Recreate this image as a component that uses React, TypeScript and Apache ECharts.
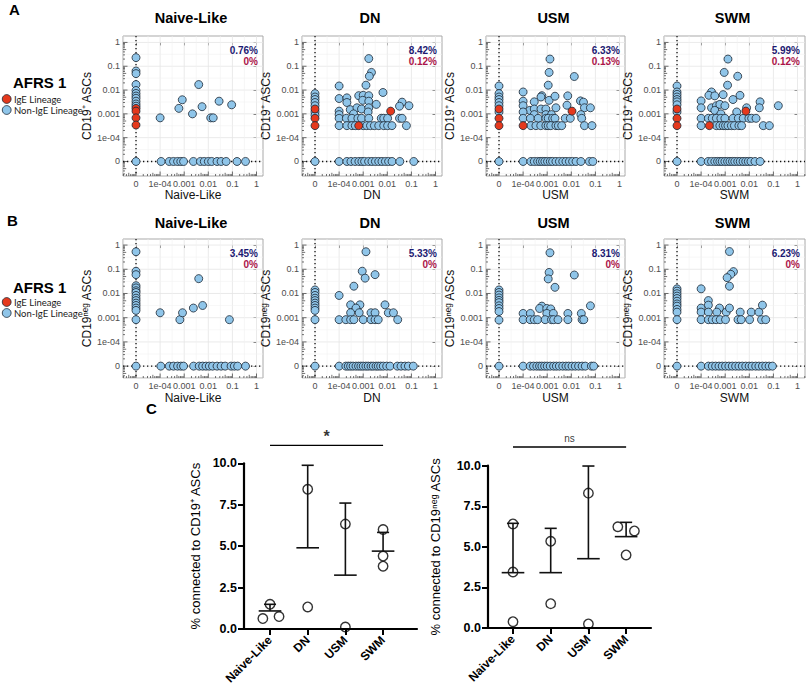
import React, { useEffect, useRef } from 'react';
import * as echarts from 'echarts';

// ---------------- pseudo-log axes (0 sits one decade below 1e-04) ----------------
const LOG_TICK_VALUES = [-5, -4, -3, -2, -1, 0];
const LOG_TICK_LABELS = ['0', '1e-04', '0.001', '0.01', '0.1', '1'];
const ZERO_POS = -5;

const PANEL_TITLES = ['Naive-Like', 'DN', 'USM', 'SWM'];
const ROW_A_PCT_BLUE = ['0.76%', '8.42%', '6.33%', '5.99%'];
const ROW_A_PCT_RED = ['0%', '0.12%', '0.13%', '0.12%'];
const ROW_B_PCT_BLUE = ['3.45%', '5.33%', '8.31%', '6.23%'];
const ROW_B_PCT_RED = ['0%', '0%', '0%', '0%'];
const LEGEND_NAMES = ['IgE Lineage', 'Non-IgE Lineage'];

// ---- Row A (CD19+ ASCs) ----
// col* = points with x = 0 (y values); row* = points with y = 0 (x values); pts* = [x, y]
const A_NL_colNon = [0.23, 0.063, 0.049, 0.017, 0.0096, 0.0072, 0.0056, 0.0045, 0.0034, 0.0026, 0.0021];
const A_NL_colIgE = [0.0017, 0.0013, 0.00068, 0.00034];
const A_NL_rowNon = [0.00011, 0.00024, 0.00036, 0.00053, 0.00072, 0.00094, 0.0024, 0.0047, 0.0068, 0.01, 0.0138, 0.023, 0.034, 0.055, 0.155, 0.35];
const A_NL_ptsNon = [[0.0001, 0.00068], [0.0006, 0.0017], [0.00083, 0.0039], [0.0022, 0.001], [0.004, 0.017], [0.0055, 0.002], [0.0126, 0.00068], [0.016, 0.00068], [0.028, 0.0034], [0.093, 0.0024]];
const A_NL_ptsIgE: number[][] = [];

const A_DN_colNon = [0.0071, 0.0051, 0.004, 0.003, 0.0022, 0.0012, 0.00088];
const A_DN_colIgE = [0.0016, 0.00065, 0.00032];
const A_DN_rowNon = [0.0001, 0.00021, 0.00031, 0.00046, 0.00066, 0.00088, 0.00114, 0.00167, 0.0023, 0.0032, 0.0044, 0.006, 0.0083, 0.0113, 0.0157, 0.033, 0.125];
const A_DN_ptsNon = [[0.0017, 0.21], [0.0022, 0.055], [0.0018, 0.038], [0.0001, 0.0148], [0.0013, 0.016], [0.0066, 0.0079], [0.0001, 0.0044], [0.00021, 0.0047], [0.00065, 0.0058], [0.001, 0.006], [0.0017, 0.0058], [0.00095, 0.0037], [0.00021, 0.003], [0.0017, 0.0034], [0.0035, 0.0025], [0.041, 0.0031], [0.032, 0.0021], [0.079, 0.0022], [0.0001, 0.0013], [0.00029, 0.0015], [0.00055, 0.0018], [0.00085, 0.0016], [0.0017, 0.0018], [0.0004, 0.001], [0.0001, 0.00093], [0.0016, 0.0012]];
const A_DN_band1 = [0.0001, 0.0002, 0.00034, 0.0006, 0.00085, 0.0017, 0.0056, 0.0071, 0.0103, 0.032, 0.041];
const A_DN_band2 = [0.0001, 0.00021, 0.00034, 0.00047, 0.001, 0.0014, 0.002, 0.0029, 0.0044, 0.0071, 0.0103, 0.0156, 0.062];
const A_DN_ptsIgE = [[0.00065, 0.00032], [0.0138, 0.0013]];

const A_USM_colNon = [0.0148, 0.0071, 0.0051, 0.004, 0.003, 0.0022, 0.0012];
const A_USM_colIgE = [0.0016, 0.00065, 0.00032];
const A_USM_rowNon = [0.0001, 0.00021, 0.00029, 0.0004, 0.00051, 0.00064, 0.0008, 0.00103, 0.00134, 0.00167, 0.0023, 0.0032, 0.0044, 0.006, 0.0083, 0.0113, 0.0157, 0.025, 0.056, 0.078];
const A_USM_ptsNon = [[0.0013, 0.2], [0.0012, 0.055], [0.0133, 0.037], [0.0011, 0.016], [0.0001, 0.0083], [0.0006, 0.0058], [0.00055, 0.0051], [0.0012, 0.0037], [0.0021, 0.0055], [0.0071, 0.0057], [0.024, 0.0035], [0.032, 0.0031], [0.0001, 0.0034], [0.00029, 0.0032], [0.0001, 0.0022], [0.00019, 0.0014], [0.00029, 0.0016], [0.00055, 0.0016], [0.00088, 0.0016], [0.0023, 0.0018], [0.0066, 0.0023], [0.035, 0.0018], [0.062, 0.0018], [0.0001, 0.0012], [0.00029, 0.00093], [0.00088, 0.00093], [0.0015, 0.00093], [0.025, 0.00093]];
const A_USM_band1 = [0.0001, 0.0002, 0.00042, 0.00088, 0.0011, 0.00167, 0.0021, 0.0056, 0.0091, 0.027];
const A_USM_band2 = [0.00021, 0.00034, 0.00054, 0.00088, 0.0011, 0.0014, 0.0023, 0.0029, 0.004, 0.035, 0.072];
const A_USM_ptsIgE = [[0.0001, 0.00032], [0.0107, 0.0013]];

const A_SWM_colNon = [0.0148, 0.0083, 0.0066, 0.0051, 0.004, 0.0032, 0.0024, 0.0012];
const A_SWM_colIgE = [0.0016, 0.00065, 0.00032];
const A_SWM_rowNon = [0.0001, 0.000196, 0.00027, 0.00037, 0.00048, 0.0006, 0.00075, 0.00097, 0.00125, 0.00157, 0.002, 0.0025, 0.0033, 0.0042, 0.0055, 0.0071, 0.0091, 0.0117, 0.0172, 0.028];
const A_SWM_ptsNon = [[0.0013, 0.2], [0.00091, 0.055], [0.0033, 0.038], [0.00125, 0.016], [0.00027, 0.0083], [0.00021, 0.006], [0.00037, 0.0057], [0.00082, 0.0064], [0.0021, 0.004], [0.0041, 0.006], [0.0001, 0.0035], [0.028, 0.0032], [0.16, 0.0022], [0.0001, 0.0018], [0.00027, 0.0018], [0.00043, 0.0022], [0.0006, 0.0025], [0.00097, 0.0022], [0.003, 0.0012], [0.0077, 0.0018], [0.026, 0.0018], [0.00037, 0.0014], [0.00066, 0.001]];
const A_SWM_band1 = [0.0001, 0.0002, 0.00029, 0.00043, 0.00066, 0.00097, 0.0021, 0.0035, 0.0056, 0.0096, 0.0125, 0.019];
const A_SWM_band2 = [0.0001, 0.00043, 0.0006, 0.00082, 0.00103, 0.0013, 0.0018, 0.0024, 0.0037, 0.0048, 0.038, 0.068];
const A_SWM_ptsIgE = [[0.0072, 0.0013], [0.00022, 0.00032]];

const A_BAND1_Y = 0.00065;
const A_BAND2_Y = 0.00032;

// ---- Row B (CD19neg ASCs) ----
const B_NL_colNon = [0.53, 0.083, 0.06, 0.021, 0.017, 0.013, 0.011, 0.0083, 0.0064, 0.0051, 0.004, 0.0032, 0.0025, 0.002, 0.00083];
const B_NL_rowNon = [0.000107, 0.00024, 0.00036, 0.00053, 0.00073, 0.00094, 0.00245, 0.0042, 0.0058, 0.008, 0.011, 0.015, 0.023, 0.034, 0.05, 0.088, 0.12, 0.165, 0.35];
const B_NL_ptsNon = [[0.0001, 0.0016], [0.00066, 0.00083], [0.00085, 0.0016], [0.0024, 0.0025], [0.004, 0.041], [0.0058, 0.0032], [0.075, 0.00083]];
const B_NL_band: number[] = [];

const B_DN_colNon = [0.014, 0.011, 0.0083, 0.0064, 0.0051, 0.004, 0.0032, 0.0025, 0.002, 0.00083];
const B_DN_rowNon = [0.0001, 0.00019, 0.00024, 0.0003, 0.00038, 0.0005, 0.00064, 0.0008, 0.001, 0.00129, 0.00162, 0.0021, 0.0026, 0.0034, 0.0042, 0.0053, 0.0068, 0.0094, 0.013, 0.026, 0.037, 0.054, 0.075, 0.12];
const B_DN_ptsNon = [[0.0013, 0.53], [0.00091, 0.083], [0.0012, 0.043], [0.0031, 0.06], [0.00041, 0.02], [0.0001, 0.0083], [0.0003, 0.0034], [0.00073, 0.0034], [0.0005, 0.0025], [0.0003, 0.0016], [0.00068, 0.0016], [0.0021, 0.0016], [0.0031, 0.0016], [0.008, 0.0034], [0.011, 0.0016], [0.018, 0.0016]];
const B_DN_band = [0.0001, 0.00019, 0.0003, 0.00041, 0.001, 0.0021, 0.0031, 0.0042, 0.027];

const B_USM_colNon = [0.014, 0.011, 0.0086, 0.0066, 0.0052, 0.0042, 0.0031, 0.0024, 0.0018, 0.0008];
const B_USM_rowNon = [0.0001, 0.000196, 0.00027, 0.00037, 0.00048, 0.0006, 0.00078, 0.001, 0.00133, 0.00184, 0.0024, 0.0032, 0.0044, 0.006, 0.0078, 0.0107, 0.0146, 0.02, 0.028, 0.038, 0.068, 0.085];
const B_USM_ptsNon = [[0.0013, 0.48], [0.0012, 0.074], [0.0011, 0.04], [0.0133, 0.058], [0.0021, 0.018], [0.0006, 0.003], [0.00048, 0.0024], [0.00096, 0.0024], [0.0014, 0.0023], [0.062, 0.0031], [0.0001, 0.0015], [0.0002, 0.0015], [0.00096, 0.0015], [0.0018, 0.0015], [0.0072, 0.0015], [0.026, 0.0015]];
const B_USM_band = [0.0001, 0.000196, 0.00029, 0.0004, 0.00082, 0.0015, 0.00184, 0.0028, 0.0072, 0.028, 0.033];

const B_SWM_colNon = [0.0156, 0.0125, 0.0098, 0.0078, 0.0062, 0.0048, 0.0037, 0.003, 0.0022, 0.0017, 0.00083];
const B_SWM_rowNon = [0.0001, 0.0002, 0.00029, 0.0004, 0.00055, 0.00075, 0.00103, 0.00142, 0.00196, 0.0027, 0.0037, 0.0051, 0.0071, 0.0098, 0.013, 0.0184, 0.025, 0.035, 0.048, 0.066, 0.091];
const B_SWM_ptsNon = [[0.0015, 0.54], [0.0022, 0.08], [0.0017, 0.062], [0.0012, 0.045], [0.0015, 0.02], [0.0001, 0.0156], [0.0002, 0.0051], [0.0002, 0.0033], [0.0001, 0.0025], [0.0001, 0.0017], [0.0002, 0.0017], [0.00058, 0.0025], [0.00045, 0.0017], [0.0011, 0.0017], [0.0015, 0.0025], [0.0042, 0.0017], [0.012, 0.0017], [0.025, 0.0017], [0.035, 0.0033]];
const B_SWM_band = [0.0001, 0.0002, 0.00029, 0.00042, 0.00062, 0.00103, 0.0034, 0.0046, 0.0103, 0.032, 0.048];

const B_BAND_Y = 0.00083;

// ---------------- Panel C ----------------
const C_CATS = ['Naive-Like', 'DN', 'USM', 'SWM'];
const C_POS_POINTS = [[1.49, 0.63, 0.75], [8.43, 1.33], [6.33, 0.12], [6.0, 4.4, 3.79]];
const C_POS_JITTER = [[0, -0.19, 0.24], [0, 0], [0, 0], [0, 0, 0]];
const C_POS_MEAN = [1.09, 4.9, 3.25, 4.7];
const C_POS_UPPER = [1.49, 9.88, 7.6, 5.83];
const C_NEG_POINTS = [[6.41, 3.45, 0.39], [5.34, 1.5], [8.31, 0.25], [6.24, 5.98, 4.5]];
const C_NEG_JITTER = [[0, 0, 0], [0, 0], [0, 0], [-0.22, 0.22, 0]];
const C_NEG_MEAN = [3.41, 3.41, 4.27, 5.63];
const C_NEG_UPPER = [6.45, 6.14, 9.98, 6.51];
const C_Y_TICKS = [0, 2.5, 5, 7.5, 10];
const C_SIG_LABELS = ['*', 'ns'];
const C_SIG_Y = [11.08, 11.15];

// ---------------- layout & style ----------------
const FONT = '"Liberation Sans", Arial, Helvetica, sans-serif';
const LEGEND_FONT = 'Lato, "Open Sans", sans-serif';
const COL_LEFT = [123, 302, 486, 664];
const COL_W = [140, 140, 139, 141];
const ROW_TOP = [36, 239];
const ROW_H = [140, 139];
const ROW_YMIN = [-5.61, -5.49];
const ROW_YMAX = [0.27, 0.25];
const X_MIN = -5.54;
const PX_PER_DEC = 24.1;
const YNAME_GAP = [17, 23.5, 23.5, 23.5];
const TITLE_Y = [18, 223];
const XNAME_GAP = [13, 14];
const AFRS_Y = [82, 287];
const LEGEND_Y = [99, 302];

const BLUE = '#8fc5e9';
const RED = '#e5391d';
const EDGE = '#1c2733';
const NAVY = '#1c1a72';
const CRIMSON = '#ab1449';

const L = (v: number) => (v === 0 ? ZERO_POS : Math.log10(v));
const band = (y: number, xs: number[]) => xs.map((x) => [x, y]);

// decoration items for each scatter panel: [value, kind]
// kind 0 major grid, 1 minor grid, 2/3/4 log ticks (long/mid/short), 5 dotted zero lines
const DECO: number[][] = [];
for (const v of LOG_TICK_VALUES) DECO.push([v, 0]);
for (const v of [-5.5, -4.5, -3.5, -2.5, -1.5, -0.5]) DECO.push([v, 1]);
for (let d = -6; d <= 0; d++) {
  for (let k = 1; k <= 9; k++) {
    DECO.push([d + Math.log10(k), k === 1 ? 2 : k === 5 ? 3 : 4]);
  }
}
DECO.push([ZERO_POS, 5]);

function decoRender(params: any, api: any) {
  const cs = params.coordSys;
  const v = api.value(0);
  const kind = api.value(1);
  const p = api.coord([v, v]);
  const bottom = cs.y + cs.height;
  const right = cs.x + cs.width;
  const inX = p[0] >= cs.x - 0.3 && p[0] <= right + 0.3;
  const inY = p[1] >= cs.y - 0.3 && p[1] <= bottom + 0.3;
  const children: any[] = [];
  const ln = (x1: number, y1: number, x2: number, y2: number, style: any) =>
    children.push({ type: 'line', shape: { x1, y1, x2, y2 }, style });
  if (kind === 0 || kind === 1) {
    const st = kind === 0 ? { stroke: '#e4e4e4', lineWidth: 0.8 } : { stroke: '#f1f1f1', lineWidth: 0.6 };
    if (inX) ln(p[0], cs.y, p[0], bottom, st);
    if (inY) ln(cs.x, p[1], right, p[1], st);
  } else if (kind === 5) {
    const st = { stroke: '#111', lineWidth: 1.3, lineDash: [1.3, 2.7] };
    if (inX) ln(p[0], cs.y, p[0], bottom, st);
    if (inY) ln(cs.x, p[1], right, p[1], st);
  } else {
    const len = kind === 2 ? 4.5 : kind === 3 ? 3.2 : 2;
    const st = { stroke: '#333', lineWidth: 0.7 };
    if (inX) ln(p[0], bottom, p[0], bottom - len, st);
    if (inY) ln(cs.x, p[1], cs.x + len, p[1], st);
  }
  return { type: 'group', children };
}

function errRender(params: any, api: any) {
  const i = api.value(0);
  const m = api.value(1);
  const u = api.value(2);
  const pm = api.coord([i, m]);
  const pu = api.coord([i, u]);
  const half = api.size([0.3, 0])[0];
  const cap = api.size([0.16, 0])[0];
  const st = { stroke: '#111', lineWidth: 1.6 };
  return {
    type: 'group',
    children: [
      { type: 'line', shape: { x1: pm[0] - half, y1: pm[1], x2: pm[0] + half, y2: pm[1] }, style: st },
      { type: 'line', shape: { x1: pm[0], y1: pm[1], x2: pu[0], y2: pu[1] }, style: st },
      { type: 'line', shape: { x1: pu[0] - cap, y1: pu[1], x2: pu[0] + cap, y2: pu[1] }, style: st },
    ],
  };
}

function buildOption() {
  const panels = [
    [
      { colNon: A_NL_colNon, colIgE: A_NL_colIgE, rowNon: A_NL_rowNon, ptsNon: A_NL_ptsNon, ptsIgE: A_NL_ptsIgE },
      { colNon: A_DN_colNon, colIgE: A_DN_colIgE, rowNon: A_DN_rowNon, ptsNon: [...A_DN_ptsNon, ...band(A_BAND1_Y, A_DN_band1), ...band(A_BAND2_Y, A_DN_band2)], ptsIgE: A_DN_ptsIgE },
      { colNon: A_USM_colNon, colIgE: A_USM_colIgE, rowNon: A_USM_rowNon, ptsNon: [...A_USM_ptsNon, ...band(A_BAND1_Y, A_USM_band1), ...band(A_BAND2_Y, A_USM_band2)], ptsIgE: A_USM_ptsIgE },
      { colNon: A_SWM_colNon, colIgE: A_SWM_colIgE, rowNon: A_SWM_rowNon, ptsNon: [...A_SWM_ptsNon, ...band(A_BAND1_Y, A_SWM_band1), ...band(A_BAND2_Y, A_SWM_band2)], ptsIgE: A_SWM_ptsIgE },
    ],
    [
      { colNon: B_NL_colNon, colIgE: [], rowNon: B_NL_rowNon, ptsNon: [...B_NL_ptsNon, ...band(B_BAND_Y, B_NL_band)], ptsIgE: [] },
      { colNon: B_DN_colNon, colIgE: [], rowNon: B_DN_rowNon, ptsNon: [...B_DN_ptsNon, ...band(B_BAND_Y, B_DN_band)], ptsIgE: [] },
      { colNon: B_USM_colNon, colIgE: [], rowNon: B_USM_rowNon, ptsNon: [...B_USM_ptsNon, ...band(B_BAND_Y, B_USM_band)], ptsIgE: [] },
      { colNon: B_SWM_colNon, colIgE: [], rowNon: B_SWM_rowNon, ptsNon: [...B_SWM_ptsNon, ...band(B_BAND_Y, B_SWM_band)], ptsIgE: [] },
    ],
  ];
  const pctBlue = [ROW_A_PCT_BLUE, ROW_B_PCT_BLUE];
  const pctRed = [ROW_A_PCT_RED, ROW_B_PCT_RED];
  const yNames = ['CD19\u207A ASCs', 'CD19\u207F\u1D49\u1D4D ASCs'];

  const grid: any[] = [];
  const xAxis: any[] = [];
  const yAxis: any[] = [];
  const series: any[] = [];
  const graphic: any[] = [];

  for (let r = 0; r < 2; r++) {
    for (let c = 0; c < 4; c++) {
      const gi = r * 4 + c;
      const P = panels[r][c];
      grid.push({
        left: COL_LEFT[c], top: ROW_TOP[r], width: COL_W[c], height: ROW_H[r],
        show: true, borderColor: '#a9a9a9', borderWidth: 1, backgroundColor: '#fff',
        containLabel: false, outerBoundsMode: 'none',
      });
      xAxis.push({
        type: 'value', gridIndex: gi, min: X_MIN, max: X_MIN + COL_W[c] / PX_PER_DEC,
        axisLine: { show: false }, splitLine: { show: false },
        axisTick: { show: true, customValues: LOG_TICK_VALUES, length: 3, lineStyle: { color: '#333', width: 0.8 } },
        axisLabel: {
          customValues: LOG_TICK_VALUES, fontSize: 9, color: '#4d4d4d', margin: 3, fontFamily: FONT,
          formatter: (v: number) => LOG_TICK_LABELS[Math.round(v) + 5] ?? '',
        },
        name: PANEL_TITLES[c], nameLocation: 'middle', nameGap: XNAME_GAP[r],
        nameTextStyle: { fontSize: 12, color: '#111', fontFamily: FONT },
      });
      yAxis.push({
        type: 'value', gridIndex: gi, min: ROW_YMIN[r], max: ROW_YMAX[r],
        axisLine: { show: false }, splitLine: { show: false },
        axisTick: { show: true, customValues: LOG_TICK_VALUES, length: 3, lineStyle: { color: '#333', width: 0.8 } },
        axisLabel: {
          customValues: LOG_TICK_VALUES, fontSize: 9, color: '#4d4d4d', margin: 3, fontFamily: FONT,
          formatter: (v: number) => LOG_TICK_LABELS[Math.round(v) + 5] ?? '',
        },
        name: yNames[r], nameLocation: 'middle', nameRotate: 90, nameGap: YNAME_GAP[c],
        nameTextStyle: { fontSize: 12, color: '#111', fontFamily: FONT },
      });
      series.push({
        type: 'custom', xAxisIndex: gi, yAxisIndex: gi, data: DECO, renderItem: decoRender,
        silent: true, z: 1, clip: false, tooltip: { show: false },
      });
      const nonData = [
        [ZERO_POS, ZERO_POS],
        ...P.colNon.map((y) => [ZERO_POS, L(y)]),
        ...P.rowNon.map((x) => [L(x), ZERO_POS]),
        ...P.ptsNon.map((p) => [L(p[0]), L(p[1])]),
      ];
      const igeData = [
        ...P.colIgE.map((y) => [ZERO_POS, L(y)]),
        ...P.ptsIgE.map((p) => [L(p[0]), L(p[1])]),
      ];
      series.push({
        type: 'scatter', name: LEGEND_NAMES[1], xAxisIndex: gi, yAxisIndex: gi, data: nonData,
        symbol: 'circle', symbolSize: 8, z: 3,
        itemStyle: { color: BLUE, borderColor: EDGE, borderWidth: 0.8, opacity: 1 },
      });
      series.push({
        type: 'scatter', name: LEGEND_NAMES[0], xAxisIndex: gi, yAxisIndex: gi, data: igeData,
        symbol: 'circle', symbolSize: 8, z: 4,
        itemStyle: { color: RED, borderColor: EDGE, borderWidth: 0.8, opacity: 1 },
      });

      // panel title and percentages
      graphic.push({
        type: 'text', silent: true,
        style: {
          text: PANEL_TITLES[c], x: COL_LEFT[c] + COL_W[c] / 2 - 2, y: TITLE_Y[r],
          textAlign: 'center', textVerticalAlign: 'middle',
          fontSize: 14.5, fontWeight: 'bold', fontFamily: FONT, fill: '#000',
        },
      });
      const px = COL_LEFT[c] + COL_W[c] - 5;
      graphic.push({
        type: 'text', silent: true, z: 10,
        style: {
          text: pctBlue[r][c], x: px, y: ROW_TOP[r] + 14.2, textAlign: 'right', textVerticalAlign: 'middle',
          fontSize: 10, fontWeight: 'bold', fontFamily: FONT, fill: NAVY,
        },
      });
      graphic.push({
        type: 'text', silent: true, z: 10,
        style: {
          text: pctRed[r][c], x: px, y: ROW_TOP[r] + 25.8, textAlign: 'right', textVerticalAlign: 'middle',
          fontSize: 10, fontWeight: 'bold', fontFamily: FONT, fill: CRIMSON,
        },
      });
    }
    // legend block
    graphic.push({
      type: 'text', silent: true,
      style: {
        text: 'AFRS 1', x: 13, y: AFRS_Y[r], textAlign: 'left', textVerticalAlign: 'middle',
        fontSize: 15, fontWeight: 'bold', fontFamily: FONT, fill: '#000',
      },
    });
    [RED, BLUE].forEach((col, k) => {
      const cy = LEGEND_Y[r] + k * 11;
      graphic.push({
        type: 'circle', silent: true,
        shape: { cx: 6.7, cy, r: 4.4 },
        style: { fill: col, stroke: EDGE, lineWidth: 0.8 },
      });
      graphic.push({
        type: 'text', silent: true,
        style: {
          text: LEGEND_NAMES[k], x: 14, y: cy, textAlign: 'left', textVerticalAlign: 'middle',
          fontSize: 9.5, lineHeight: 10, fontFamily: LEGEND_FONT, fill: '#1a1a1a',
        },
      });
    });
  }

  // ---- Panel C ----
  const cGrids = [
    { left: 244, top: 463.3, width: 173, height: 165.7, xMin: -0.69, xMax: 3.9, name: '% connected to CD19\u207A ASCs', nameGap: 42,
      points: C_POS_POINTS, jitter: C_POS_JITTER, mean: C_POS_MEAN, upper: C_POS_UPPER },
    { left: 488, top: 465.7, width: 163, height: 162.3, xMin: -0.663, xMax: 3.66, name: '% connected to CD19\u207F\u1D49\u1D4D ASCs', nameGap: 46,
      points: C_NEG_POINTS, jitter: C_NEG_JITTER, mean: C_NEG_MEAN, upper: C_NEG_UPPER },
  ];
  cGrids.forEach((g, k) => {
    const gi = 8 + k;
    grid.push({ left: g.left, top: g.top, width: g.width, height: g.height, show: false, containLabel: false, outerBoundsMode: 'none' });
    xAxis.push({
      type: 'value', gridIndex: gi, min: g.xMin, max: g.xMax,
      axisLine: { show: true, onZero: false, lineStyle: { color: '#000', width: 2.2 } },
      axisTick: { show: true, customValues: [0, 1, 2, 3], length: 6, lineStyle: { color: '#000', width: 2 } },
      axisLabel: {
        customValues: [0, 1, 2, 3], rotate: 45, margin: 9, fontSize: 12, fontWeight: 'bold', color: '#000', fontFamily: FONT,
        formatter: (v: number) => C_CATS[Math.round(v)] ?? '',
      },
      splitLine: { show: false },
    });
    yAxis.push({
      type: 'value', gridIndex: gi, min: 0, max: 10, interval: 2.5,
      axisLine: { show: true, onZero: false, lineStyle: { color: '#000', width: 2.2 } },
      axisTick: { show: true, customValues: C_Y_TICKS, length: 6, lineStyle: { color: '#000', width: 2 } },
      axisLabel: {
        customValues: C_Y_TICKS, margin: 7, fontSize: 12.5, fontWeight: 'bold', color: '#000', fontFamily: FONT,
        formatter: (v: number) => v.toFixed(1),
      },
      splitLine: { show: false },
      name: g.name, nameLocation: 'middle', nameRotate: 90, nameGap: g.nameGap,
      nameTextStyle: { fontSize: 13, color: '#000', fontFamily: FONT },
    });
    const pts: number[][] = [];
    g.points.forEach((arr, i) => arr.forEach((v, j) => pts.push([i + g.jitter[i][j], v])));
    series.push({
      type: 'scatter', name: 'C points ' + k, xAxisIndex: gi, yAxisIndex: gi, data: pts,
      symbol: 'circle', symbolSize: 9.5, z: 3,
      itemStyle: { color: 'rgba(255,255,255,0)', borderColor: '#000', borderWidth: 1.4 },
    });
    series.push({
      type: 'custom', name: 'C err ' + k, xAxisIndex: gi, yAxisIndex: gi,
      data: g.mean.map((m, i) => [i, m, g.upper[i]]), renderItem: errRender, z: 4, clip: false, silent: true,
    });
    series.push({
      type: 'line', name: 'C sig ' + k, xAxisIndex: gi, yAxisIndex: gi,
      data: [[0, C_SIG_Y[k]], [3, C_SIG_Y[k]]], symbol: 'none', clip: false, silent: true,
      lineStyle: { color: '#000', width: 1.4 }, z: 4,
    });
    series.push({
      type: 'scatter', name: 'C sig label ' + k, xAxisIndex: gi, yAxisIndex: gi,
      data: [[1.5, C_SIG_Y[k]]], symbolSize: 1, clip: false, silent: true,
      itemStyle: { color: 'rgba(0,0,0,0)' },
      label: {
        show: true, position: 'top', distance: k === 0 ? 0 : 3, formatter: C_SIG_LABELS[k],
        fontSize: k === 0 ? 16 : 10, fontWeight: k === 0 ? 'bold' : 'normal', color: '#000', fontFamily: FONT,
      },
    });
  });

  // panel letters
  const letters: [string, number, number][] = [['A', 9, 9], ['B', 7, 220], ['C', 146, 408]];
  letters.forEach(([t, x, y]) =>
    graphic.push({
      type: 'text', silent: true,
      style: { text: t, x, y, textAlign: 'left', textVerticalAlign: 'middle', fontSize: 15, fontWeight: 'bold', fontFamily: FONT, fill: '#000' },
    })
  );

  return {
    animation: false,
    backgroundColor: '#fff',
    textStyle: { fontFamily: FONT },
    grid, xAxis, yAxis, series, graphic,
  };
}

export default function App() {
  const ref = useRef<HTMLDivElement>(null);
  useEffect(() => {
    const chart = echarts.init(ref.current as HTMLDivElement, null, { renderer: 'svg' });
    chart.setOption(buildOption() as any);
    return () => chart.dispose();
  }, []);
  return (
    <div
      ref={ref}
      style={{ position: 'absolute', left: 0, top: 0, width: 807, height: 689, background: '#fff' }}
    />
  );
}
